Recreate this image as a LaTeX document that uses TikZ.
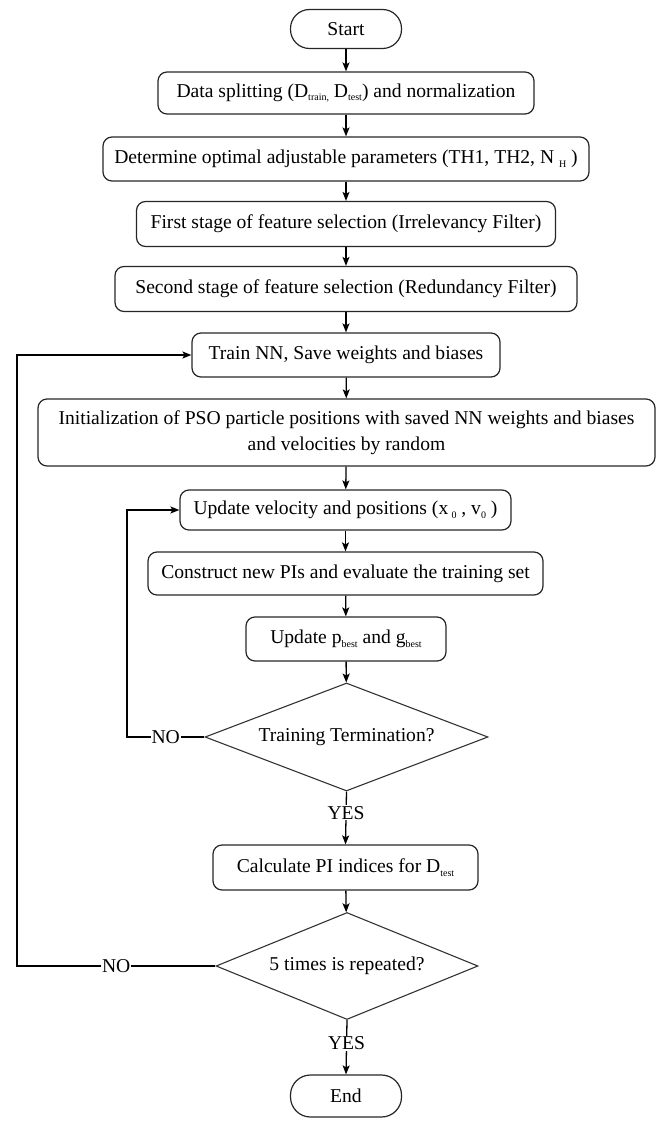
\documentclass[tikz,border=0pt]{standalone}
\usepackage{fontspec}
\setmainfont{Liberation Serif}
\usetikzlibrary{shapes.geometric,arrows.meta}
\newcommand{\mysub}[1]{\raisebox{-3.5pt}{\fontsize{10}{10}\selectfont #1}}
\begin{document}
\begin{tikzpicture}[x=1pt,y=-1pt,
  font=\fontsize{19.6}{26}\selectfont,
  box/.style={draw=black!85, line width=1.2pt, rounded corners=9pt, inner sep=0pt, align=center},
  term/.style={draw=black!85, line width=1.2pt, rounded corners=19pt, minimum width=111pt, minimum height=39pt, inner sep=0pt},
  decision/.style={draw=black!80, line width=1.1pt, diamond, inner sep=0pt},
  arr/.style={line width=1.3pt, -{Stealth[length=9pt,width=7pt,inset=2pt]}},
  lab/.style={fill=white, inner sep=1pt}
]
\useasboundingbox (0,0) rectangle (657,1121);
\node[term] (start) at (346,29) {Start};
\node[box, minimum width=376pt, minimum height=42pt] (split) at (346,93) {Data splitting (D\mysub{train,} D\mysub{test}) and normalization};
\node[box, minimum width=486pt, minimum height=44pt] (det) at (346,159) {Determine optimal adjustable parameters (TH1, TH2, N \mysub{H} )};
\node[box, minimum width=419pt, minimum height=45pt] (first) at (346,224) {First stage of feature selection (Irrelevancy Filter)};
\node[box, minimum width=462pt, minimum height=45pt] (second) at (346,289) {Second stage of feature selection (Redundancy Filter)};
\node[box, minimum width=308pt, minimum height=44pt] (train) at (346,355) {Train NN, Save weights and biases};
\node[box, minimum width=617pt, minimum height=67pt] (init) at (346.5,432.5) {Initialization of PSO particle positions with saved NN weights and biases\\and velocities by random};
\node[box, minimum width=331pt, minimum height=40pt] (vel) at (345.5,510) {Update velocity and positions (x\,\mysub{0} , v\mysub{0} )};
\node[box, minimum width=395pt, minimum height=43pt] (cons) at (345.5,573.5) {Construct new PIs and evaluate the training set};
\node[box, minimum width=200pt, minimum height=44pt] (best) at (346,639) {Update p\mysub{best} and g\mysub{best}};
\node[decision, aspect=2.62, minimum width=283pt, minimum height=108pt] (d1) at (346.5,737) {Training Termination?};
\node[box, minimum width=265pt, minimum height=45pt] (calc) at (345.5,867.5) {Calculate PI indices for D\mysub{test}};
\node[decision, aspect=2.45, minimum width=262pt, minimum height=107pt] (d2) at (347,966) {5 times is repeated?};
\node[term, minimum height=42pt, rounded corners=20pt] (end) at (346,1096) {End};
\coordinate (l1) at (127,737);
\coordinate (l2) at (17,966);
\draw[arr] (start) -- (split);
\draw[arr] (split) -- (det);
\draw[arr] (det) -- (first);
\draw[arr] (first) -- (second);
\draw[arr] (second) -- (train);
\draw[arr] (train) -- (init);
\draw[arr] (init) -- (vel);
\draw[arr] (vel) -- (cons);
\draw[arr] (cons) -- (best);
\draw[arr] (best) -- (d1);
\draw[arr] (d1.south) -- node[lab, pos=0.4] {YES} (calc.north);
\draw[arr] (calc) -- (d2);
\draw[arr] (d2.south) -- node[lab, pos=0.43] {YES} (end.north);
\draw[arr] (d1.west) -- node[lab] {NO} (l1) |- (vel.west);
\draw[arr] (d2.west) -- node[lab] {NO} (l2) |- (train.west);
\end{tikzpicture}
\end{document}
